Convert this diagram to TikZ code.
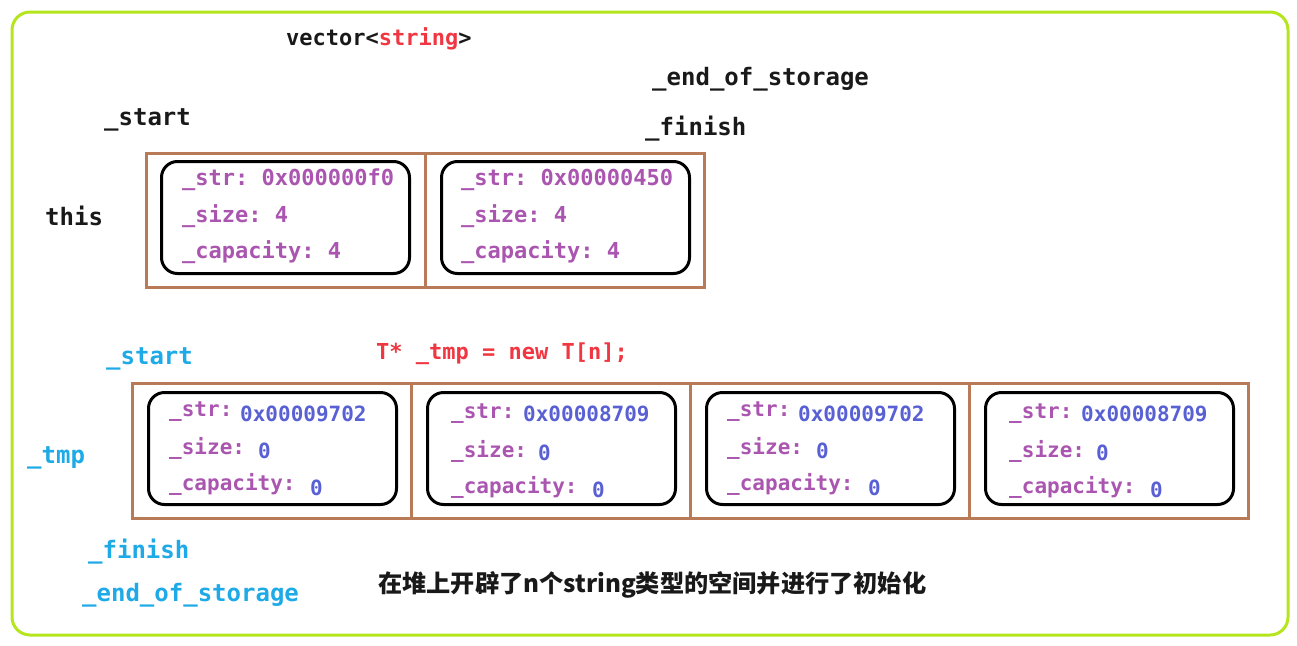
\documentclass[tikz,border=0pt]{standalone}
\usepackage{fontspec}
\setmonofont{DejaVu Sans Mono}
\newfontfamily\cjk{Noto Sans CJK SC}
\definecolor{framegreen}{RGB}{181,230,29}
\definecolor{cellbrown}{RGB}{185,122,87}
\definecolor{fieldpurple}{RGB}{170,85,175}
\definecolor{valblue}{RGB}{88,96,212}
\definecolor{labcyan}{RGB}{30,170,230}
\definecolor{codered}{RGB}{240,55,65}
\definecolor{inkblack}{RGB}{25,25,25}
\begin{document}
\begin{tikzpicture}[x=1pt,y=-1pt,
  cell/.style={draw=cellbrown, line width=3pt, minimum width=279pt, minimum height=134pt, inner sep=0pt, anchor=north west},
  obj/.style={draw=black, line width=3pt, rounded corners=16pt, minimum width=248pt, minimum height=112pt, inner sep=0pt, anchor=north west},
  mono/.style={font=\ttfamily\bfseries\fontsize{22}{26}\selectfont, anchor=west, inner sep=0pt, yshift=-2pt},
  small/.style={font=\ttfamily\bfseries\fontsize{21}{25}\selectfont, anchor=west, inner sep=0pt, yshift=-2pt},
  big/.style={font=\ttfamily\bfseries\fontsize{24}{28}\selectfont, anchor=west, inner sep=0pt, yshift=-2pt},
  field/.style={small, text=fieldpurple},
  val/.style={small, text=valblue}]
\useasboundingbox (0,0) rectangle (1297,645);
\draw[framegreen, line width=3pt, rounded corners=18pt] (12,12) rectangle (1288,635);

% top labels
\node[mono, text=inkblack] (vec) at (286,37) {vector<\textcolor{codered}{string}>};
\node[big, text=inkblack] (eos1) at (652,77) {\_end\_of\_storage};
\node[big, text=inkblack] (start1) at (104,118) {\_start};
\node[big, text=inkblack] (fin1) at (645,127) {\_finish};
\node[big, text=inkblack] (this) at (45,214) {this};

% top array
\node[cell] (c1) at (145,152) {};
\node[cell] (c2) at (424,152) {};
\node[obj] (o1) at (160,160) {};
\node[obj] (o2) at (440,160) {};
\node[mono, text=fieldpurple] (o1a) at (182,178) {\_str: 0x000000f0};
\node[mono, text=fieldpurple] (o1b) at (182,214) {\_size: 4};
\node[mono, text=fieldpurple] (o1c) at (182,250) {\_capacity: 4};
\node[mono, text=fieldpurple] (o2a) at (461,178) {\_str: 0x00000450};
\node[mono, text=fieldpurple] (o2b) at (461,214) {\_size: 4};
\node[mono, text=fieldpurple] (o2c) at (461,250) {\_capacity: 4};

% bottom labels
\node[big, text=labcyan] (start2) at (106,357) {\_start};
\node[mono, text=codered] (code) at (376,352) {T* \_tmp = new T[n];};
\node[big, text=labcyan] (tmp) at (27,456) {\_tmp};
\node[big, text=labcyan] (fin2) at (88,550) {\_finish};
\node[big, text=labcyan] (eos2) at (82,593) {\_end\_of\_storage};
\node[anchor=west, inner sep=0pt, yshift=-1pt, text=inkblack, font=\cjk\bfseries\fontsize{24.2}{28}\selectfont] (note) at (378,584) {在堆上开辟了n个string类型的空间并进行了初始化};

% bottom array
\node[cell, minimum height=135pt] (d1) at (131,382) {};
\node[cell, minimum height=135pt] (d2) at (410,382) {};
\node[cell, minimum height=135pt] (d3) at (689,382) {};
\node[cell, minimum height=135pt] (d4) at (968,382) {};
\node[obj] (p1) at (147,391) {};
\node[obj] (p2) at (426,391) {};
\node[obj] (p3) at (705,391) {};
\node[obj] (p4) at (984,391) {};

\node[field] (p1a) at (169,410) {\_str:};
\node[val]   (p1av) at (240,412) {0x00009702};
\node[field] (p1b) at (169,446) {\_size:};
\node[val]   (p1bv) at (258,449) {0};
\node[field] (p1c) at (169,482) {\_capacity:};
\node[val]   (p1cv) at (310,486) {0};

\node[field] (p2a) at (451,412) {\_str:};
\node[val]   (p2av) at (523,412) {0x00008709};
\node[field] (p2b) at (451,449) {\_size:};
\node[val]   (p2bv) at (538,451) {0};
\node[field] (p2c) at (451,485) {\_capacity:};
\node[val]   (p2cv) at (592,488) {0};

\node[field] (p3a) at (727,410) {\_str:};
\node[val]   (p3av) at (798,412) {0x00009702};
\node[field] (p3b) at (727,446) {\_size:};
\node[val]   (p3bv) at (816,449) {0};
\node[field] (p3c) at (727,482) {\_capacity:};
\node[val]   (p3cv) at (868,486) {0};

\node[field] (p4a) at (1009,412) {\_str:};
\node[val]   (p4av) at (1081,412) {0x00008709};
\node[field] (p4b) at (1009,449) {\_size:};
\node[val]   (p4bv) at (1096,451) {0};
\node[field] (p4c) at (1009,485) {\_capacity:};
\node[val]   (p4cv) at (1150,488) {0};
\end{tikzpicture}
\end{document}
